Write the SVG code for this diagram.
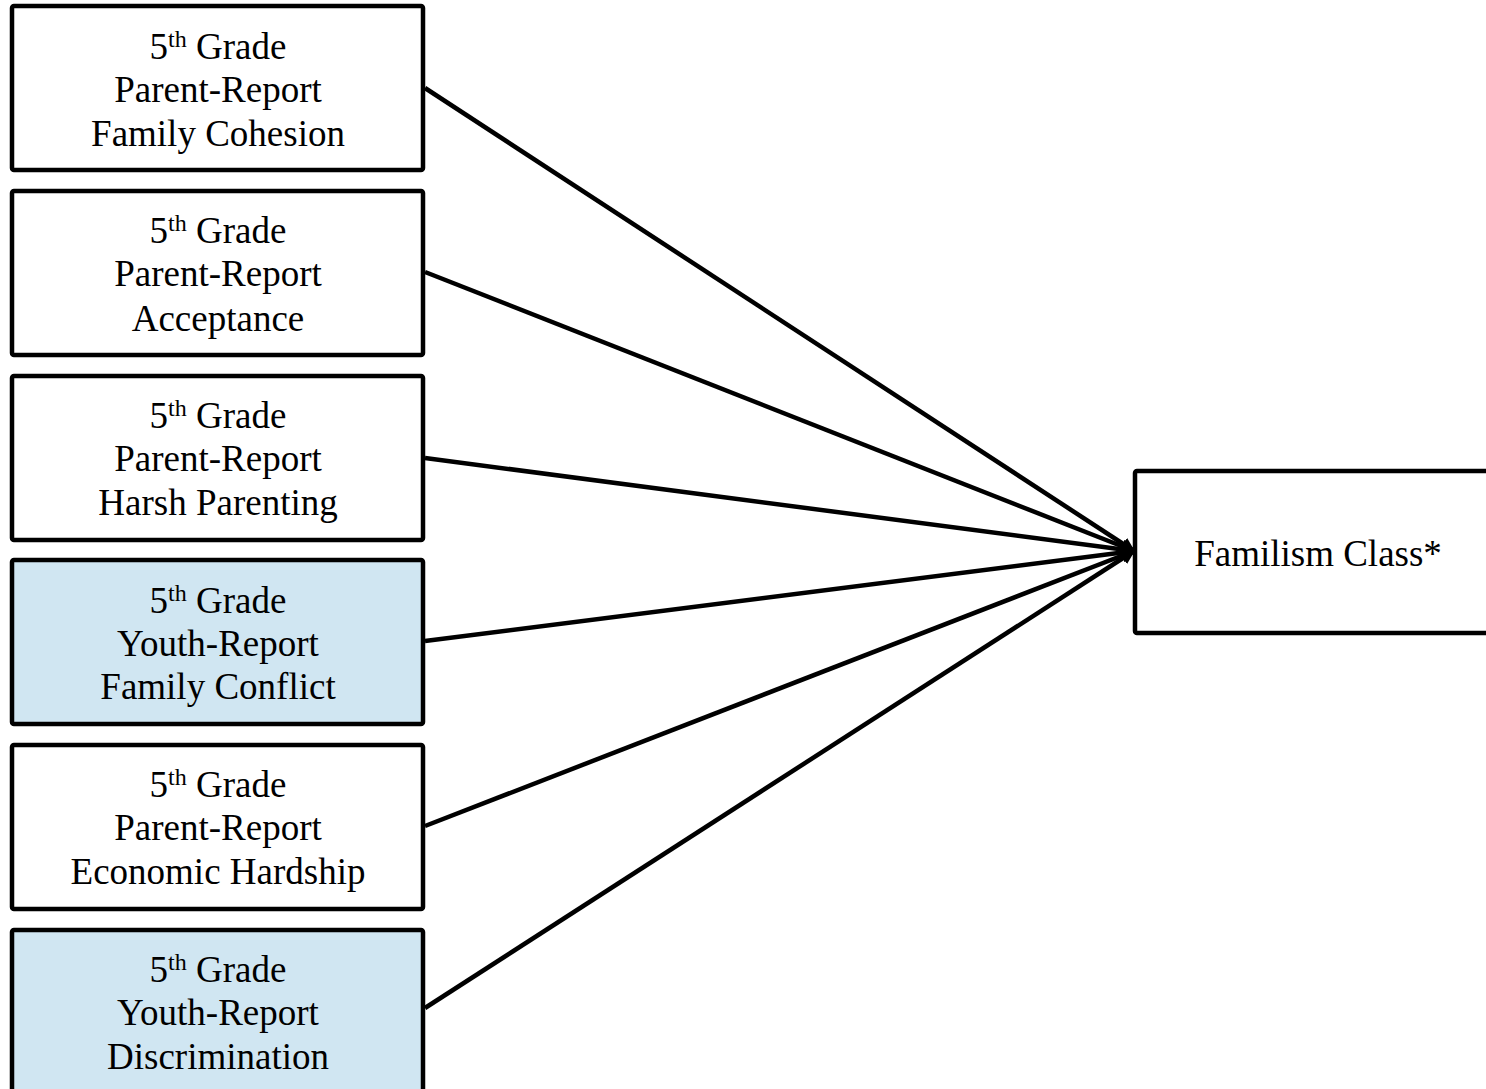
<svg xmlns="http://www.w3.org/2000/svg" width="1486" height="1089" viewBox="0 0 1486 1089">
  <style>
    .box { stroke: #000; stroke-width: 4.5; }
    .plain { fill: #fff; }
    .youth { fill: #D0E6F2; }
    .lbl { font-family: "Liberation Serif", "Times New Roman", serif; font-size: 37px; fill: #000; text-anchor: middle; }
    .sup { font-size: 24px; }
    .edge { stroke: #000; stroke-width: 4.5; fill: none; marker-end: url(#arrow); }
  </style>
  <defs>
    <marker id="arrow" viewBox="0 0 10 10" refX="9" refY="5" markerWidth="3.2" markerHeight="3.2" orient="auto" markerUnits="strokeWidth">
      <path d="M0,0 L10,5 L0,10 Z" fill="#000"/>
    </marker>
  </defs>
  <rect width="1486" height="1089" fill="#fff"/>

  <g id="connectors">
    <line class="edge" x1="425" y1="88" x2="1134" y2="551"/>
    <line class="edge" x1="425" y1="272" x2="1134" y2="551"/>
    <line class="edge" x1="425" y1="458" x2="1134" y2="551"/>
    <line class="edge" x1="425" y1="641" x2="1134" y2="551"/>
    <line class="edge" x1="425" y1="826" x2="1134" y2="551"/>
    <line class="edge" x1="425" y1="1008" x2="1134" y2="551"/>
  </g>

  <g id="cohesion">
    <rect class="box plain" x="12" y="6" width="411" height="164" rx="2"/>
    <text class="lbl" x="218" y="59">5<tspan class="sup" dy="-12">th</tspan><tspan dy="12"> Grade</tspan></text>
    <text class="lbl" x="218" y="102">Parent-Report</text>
    <text class="lbl" x="218" y="146">Family Cohesion</text>
  </g>

  <g id="acceptance">
    <rect class="box plain" x="12" y="191" width="411" height="164" rx="2"/>
    <text class="lbl" x="218" y="243">5<tspan class="sup" dy="-12">th</tspan><tspan dy="12"> Grade</tspan></text>
    <text class="lbl" x="218" y="286">Parent-Report</text>
    <text class="lbl" x="218" y="331">Acceptance</text>
  </g>

  <g id="harsh">
    <rect class="box plain" x="12" y="376" width="411" height="164" rx="2"/>
    <text class="lbl" x="218" y="428">5<tspan class="sup" dy="-12">th</tspan><tspan dy="12"> Grade</tspan></text>
    <text class="lbl" x="218" y="471">Parent-Report</text>
    <text class="lbl" x="218" y="515">Harsh Parenting</text>
  </g>

  <g id="conflict">
    <rect class="box youth" x="12" y="560" width="411" height="164" rx="2"/>
    <text class="lbl" x="218" y="613">5<tspan class="sup" dy="-12">th</tspan><tspan dy="12"> Grade</tspan></text>
    <text class="lbl" x="218" y="656">Youth-Report</text>
    <text class="lbl" x="218" y="699">Family Conflict</text>
  </g>

  <g id="hardship">
    <rect class="box plain" x="12" y="745" width="411" height="164" rx="2"/>
    <text class="lbl" x="218" y="797">5<tspan class="sup" dy="-12">th</tspan><tspan dy="12"> Grade</tspan></text>
    <text class="lbl" x="218" y="840">Parent-Report</text>
    <text class="lbl" x="218" y="884">Economic Hardship</text>
  </g>

  <g id="discrimination">
    <rect class="box youth" x="12" y="930" width="411" height="170" rx="2"/>
    <text class="lbl" x="218" y="982">5<tspan class="sup" dy="-12">th</tspan><tspan dy="12"> Grade</tspan></text>
    <text class="lbl" x="218" y="1025">Youth-Report</text>
    <text class="lbl" x="218" y="1069">Discrimination</text>
  </g>

  <g id="familism">
    <rect class="box plain" x="1135" y="471" width="360" height="162" rx="2"/>
    <text class="lbl" x="1318" y="566">Familism Class*</text>
  </g>
</svg>
